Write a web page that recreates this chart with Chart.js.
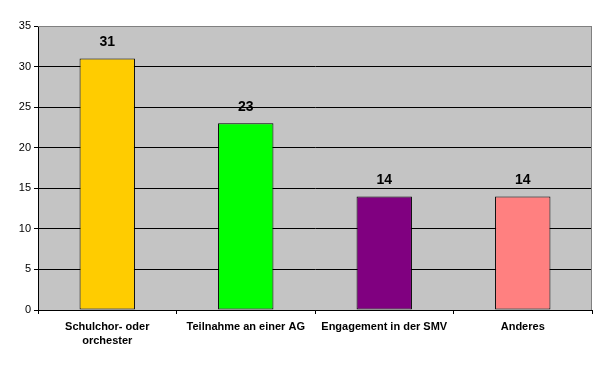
<!DOCTYPE html>
<html>
<head>
<meta charset="utf-8">
<script src="https://cdn.jsdelivr.net/npm/chart.js@4"></script>
<style>
  html, body { margin: 0; padding: 0; background: #fff; }
  #wrap { width: 608px; height: 368px; }
</style>
</head>
<body>
<div id="wrap"><canvas id="chartTaetigkeit" width="608" height="368"></canvas></div>
<script>
// Datos del gráfico
const kategorien = [['Schulchor- oder', 'orchester'], 'Teilnahme an einer AG', 'Engagement in der SMV', 'Anderes'];
const werte = [31, 23, 14, 14];
const farben = ['#FFCC00', '#00FF00', '#800080', '#FF8080'];
const yTicks = [0, 5, 10, 15, 20, 25, 30, 35];

// Fondo gris del área de trazado y borde gris arriba/derecha
const fondoPlot = {
    id: 'fondoPlot',
    beforeDraw(chart) {
        const { ctx, chartArea: a } = chart;
        ctx.save();
        ctx.fillStyle = '#C4C4C4';
        ctx.fillRect(a.left, a.top, a.right - a.left, a.bottom - a.top);
        ctx.restore();
    },
    afterDraw(chart) {
        const { ctx, chartArea: a } = chart;
        ctx.save();
        ctx.strokeStyle = '#808080';
        ctx.lineWidth = 1;
        ctx.beginPath();
        ctx.moveTo(a.left, a.top + 0.5);
        ctx.lineTo(a.right - 0.5, a.top + 0.5);
        ctx.lineTo(a.right - 0.5, a.bottom);
        ctx.stroke();
        ctx.restore();
    }
};

// Etiquetas de valor encima de cada barra
const etiquetasValor = {
    id: 'etiquetasValor',
    afterDatasetsDraw(chart) {
        const { ctx } = chart;
        const meta = chart.getDatasetMeta(0);
        ctx.save();
        ctx.font = 'bold 14px "Liberation Sans", Arial, sans-serif';
        ctx.fillStyle = '#000';
        ctx.textAlign = 'center';
        ctx.textBaseline = 'middle';
        meta.data.forEach((bar, i) => {
            ctx.fillText(String(werte[i]), bar.x, bar.y - 16);
        });
        ctx.restore();
    }
};

new Chart(document.getElementById('chartTaetigkeit'), {
    type: 'bar',
    data: {
        labels: kategorien,
        datasets: [{
            data: werte,
            backgroundColor: farben,
            borderColor: '#000',
            borderWidth: 1,
            borderSkipped: false,
            categoryPercentage: 1.0,
            barPercentage: 0.4
        }]
    },
    options: {
        responsive: false,
        animation: false,
        layout: { padding: { left: 0, right: 16, top: 26, bottom: 0 } },
        plugins: {
            legend: { display: false },
            tooltip: { enabled: false }
        },
        scales: {
            x: {
                afterFit(scale) { scale.height = 58; },
                grid: {
                    display: true,
                    drawOnChartArea: false,
                    drawTicks: true,
                    tickLength: 4,
                    color: '#000',
                    offset: true
                },
                border: { display: true, color: '#000' },
                ticks: {
                    color: '#000',
                    padding: 6,
                    maxRotation: 0,
                    autoSkip: false,
                    font: { family: '"Liberation Sans", Arial, sans-serif', size: 11, weight: 'bold', lineHeight: 1.3 }
                }
            },
            y: {
                min: 0,
                max: 35,
                afterFit(scale) { scale.width = 38; },
                afterBuildTicks(scale) { scale.ticks = yTicks.map(v => ({ value: v })); },
                grid: {
                    color: ctx => (ctx.tick && ctx.tick.value === 35) ? '#808080' : '#000',
                    tickColor: '#000',
                    tickLength: 4
                },
                border: { display: true, color: '#000' },
                ticks: {
                    color: '#000',
                    padding: 3,
                    font: { family: '"Liberation Sans", Arial, sans-serif', size: 11 }
                }
            }
        }
    },
    plugins: [fondoPlot, etiquetasValor]
});
</script>
</body>
</html>
